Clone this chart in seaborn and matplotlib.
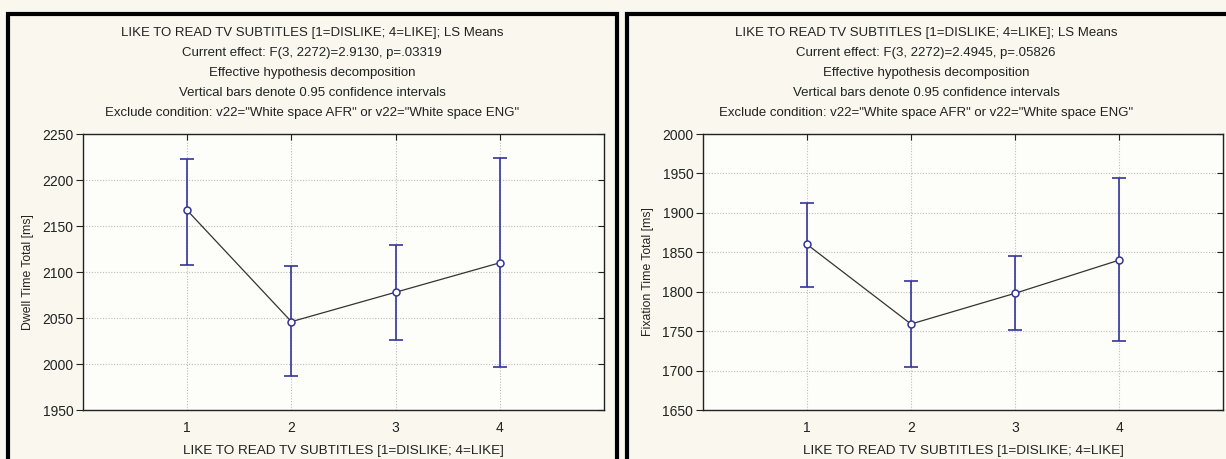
import numpy as np
import pandas as pd
import matplotlib
matplotlib.use('Agg')
import matplotlib.pyplot as plt
from matplotlib.patches import Rectangle
from matplotlib import markers
import seaborn as sns

# Levels of the factor
levels = [1, 2, 3, 4]

# Dwell time (left panel): LS means and 95% CI bounds
dwell_mean = [2167, 2046, 2078, 2110]
dwell_low = [2108, 1987, 2026, 1997]
dwell_high = [2223, 2107, 2129, 2224]

# Fixation time (right panel)
fix_mean = [1860, 1759, 1798, 1840]
fix_low = [1806, 1704, 1751, 1737]
fix_high = [1912, 1813, 1845, 1944]

xlabel = 'LIKE TO READ TV SUBTITLES [1=DISLIKE; 4=LIKE]'
header = ['LIKE TO READ TV SUBTITLES [1=DISLIKE; 4=LIKE]; LS Means',
          'Current effect: F(3, 2272)=2.9130, p=.03319',
          'Effective hypothesis decomposition',
          'Vertical bars denote 0.95 confidence intervals',
          'Exclude condition: v22="White space AFR" or v22="White space ENG"']
header_right = list(header)
header_right[1] = 'Current effect: F(3, 2272)=2.4945, p=.05826'

sns.set_style('white')
plt.rcParams['font.family'] = ['Liberation Sans', 'DejaVu Sans']

W, H = 1226, 459
fig = plt.figure(figsize=(W / 100, H / 100), dpi=100)
fig.patch.set_facecolor('#f9f7ee')

navy = '#34349a'


def panel(rect, means, lows, highs, ylim, yticks, ylabel, lines, title_x):
    ax = fig.add_axes(rect)
    ax.set_facecolor('#fdfdfa')
    df = pd.DataFrame({'x': levels, 'm': means, 'lo': lows, 'hi': highs})
    yerr = [df.m - df.lo, df.hi - df.m]
    ax.errorbar(df.x, df.m, yerr=yerr, fmt='none', ecolor=navy, elinewidth=1.2,
                capsize=5, capthick=1.2, zorder=3)
    sns.lineplot(data=df, x='x', y='m', ax=ax, color='#333333', linewidth=0.9,
                 marker='o', markersize=5, markerfacecolor='white',
                 markeredgecolor=navy, markeredgewidth=1.1, zorder=4)
    ax.set_xlim(0, 5)
    ax.set_ylim(*ylim)
    ax.set_xticks(levels)
    ax.set_yticks(yticks)
    ax.grid(True, color='#bcbcbc', linestyle=(0, (1, 1.5)), linewidth=0.8)
    for s in ax.spines.values():
        s.set_color('#222222')
        s.set_linewidth(1.0)
    ax.tick_params(axis='y', which='both', left=True, right=True, direction='out',
                   length=5, labelsize=10, pad=2, colors='#222222')
    # right-hand ticks point inwards
    for t in ax.yaxis.get_major_ticks():
        t.tick2line.set_marker(markers.TICKLEFT)
        t.tick2line.set_markersize(4)
    ax.tick_params(axis='x', which='both', bottom=False, top=True, direction='in',
                   length=4, labelsize=10, pad=8, colors='#222222')
    ax.set_xlabel(xlabel, fontsize=9.7, labelpad=7, color='#222222')
    ax.set_ylabel(ylabel, fontsize=8.8, labelpad=6, color='#222222')
    y0 = 1 - 33 / H
    for i, t in enumerate(lines):
        fig.text(title_x, y0 - i * 20 / H, t, ha='center', va='center',
                 fontsize=9.5, color='#222222')
    return ax


panel([83 / W, 1 - 410 / H, 521 / W, 276 / H], dwell_mean, dwell_low, dwell_high,
      (1950, 2250), np.arange(1950, 2251, 50), 'Dwell Time Total [ms]', header,
      312 / W)
panel([703 / W, 1 - 410 / H, 520 / W, 276 / H], fix_mean, fix_low, fix_high,
      (1650, 2000), np.arange(1650, 2001, 50), 'Fixation Time Total [ms]',
      header_right, 926 / W)

# black frames around the two panels
fig.patches.append(Rectangle((8 / W, -0.05), 609 / W, 1.05 - 14 / H, fill=False,
                             edgecolor='black', linewidth=3,
                             transform=fig.transFigure, figure=fig))
fig.patches.append(Rectangle((627 / W, -0.05), 0.5, 1.05 - 14 / H, fill=False,
                             edgecolor='black', linewidth=3,
                             transform=fig.transFigure, figure=fig))

fig.savefig('out.png', dpi=100, facecolor=fig.get_facecolor())
